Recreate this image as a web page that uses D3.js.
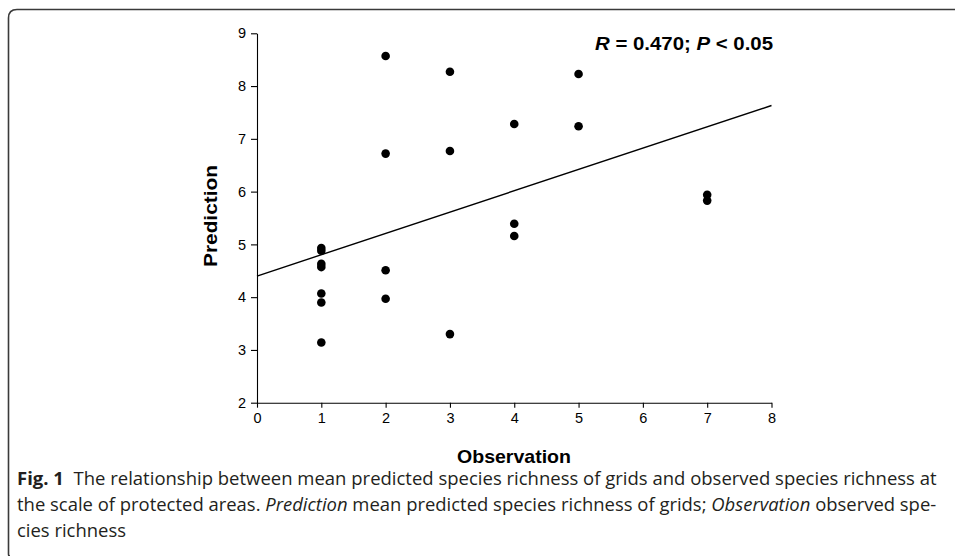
<!DOCTYPE html>
<html>
<head>
<meta charset="utf-8">
<script src="https://cdn.jsdelivr.net/npm/d3@7"></script>
<style>
  html, body { margin: 0; padding: 0; background: #fff; }
  svg { display: block; }
</style>
</head>
<body>
<svg id="chart" width="955" height="556"></svg>
<script>
// ---- data ----
const observation = [1, 1, 1, 1, 1, 1, 1, 2, 2, 2, 2, 3, 3, 3, 4, 4, 4, 5, 5, 7, 7];
const prediction  = [4.93, 4.88, 4.63, 4.57, 4.07, 3.90, 3.14,
                     8.57, 6.72, 4.51, 3.97,
                     8.27, 6.77, 3.30,
                     7.28, 5.39, 5.16,
                     8.23, 7.24,
                     5.94, 5.83];
const xTicks = [0, 1, 2, 3, 4, 5, 6, 7, 8];
const yTicks = [2, 3, 4, 5, 6, 7, 8, 9];
const fitIntercept = 4.40;
const fitSlope = 0.404;
const statText = ["R", " = 0.470; ", "P", " < 0.05"];
const xTitle = "Observation";
const yTitle = "Prediction";

const svg = d3.select("#chart");
const W = 955, H = 556;

// frame
svg.append("path")
  .attr("d", `M ${W} 9.5 H 17 Q 8.5 9.5 8.5 18 V ${H - 2} Q 8.5 ${H} 10 ${H}`)
  .attr("fill", "none").attr("stroke", "#3a3a3a").attr("stroke-width", 1.6);

const x = d3.scaleLinear().domain([0, 8]).range([257, 771.5]);
const y = d3.scaleLinear().domain([2, 9]).range([402.7, 33.3]);

const axisFont = "'Liberation Sans', Arial, sans-serif";

const gx = svg.append("g").attr("transform", `translate(0,${y(2)})`)
  .call(d3.axisBottom(x).tickValues(xTicks).tickFormat(d3.format("d")).tickSize(5).tickSizeOuter(0).tickPadding(5));
const gy = svg.append("g").attr("transform", `translate(${x(0)},0)`)
  .call(d3.axisLeft(y).tickValues(yTicks).tickFormat(d3.format("d")).tickSize(6).tickSizeOuter(0).tickPadding(5));
[gx, gy].forEach(g => {
  g.attr("font-family", axisFont).attr("font-size", 14.5);
  g.selectAll("path.domain").attr("stroke", "#000").attr("stroke-width", 1.1);
  g.selectAll(".tick line").attr("stroke", "#000").attr("stroke-width", 1.1);
  g.selectAll(".tick text").style("font-size", "14.5px").style("font-family", axisFont).attr("fill", "#000");
});

// regression line
svg.append("line")
  .attr("x1", x(0)).attr("y1", y(fitIntercept))
  .attr("x2", x(8)).attr("y2", y(fitIntercept + fitSlope * 8))
  .attr("stroke", "#000").attr("stroke-width", 1.4);

// points
svg.append("g").selectAll("circle")
  .data(observation.map((o, i) => ({o, p: prediction[i]})))
  .join("circle")
  .attr("cx", d => x(d.o)).attr("cy", d => y(d.p)).attr("r", 4.3)
  .attr("fill", "#000");

// stat annotation
const st = svg.append("text")
  .attr("x", 595).attr("y", 50)
  .attr("font-family", axisFont).attr("font-size", 18).attr("font-weight", "bold")
  .attr("fill", "#000")
  .attr("textLength", 178).attr("lengthAdjust", "spacingAndGlyphs");
statText.forEach((t, i) => {
  st.append("tspan").attr("font-style", (i % 2 === 0) ? "italic" : "normal")
    .attr("xml:space", "preserve").style("white-space", "pre").text(t);
});

// axis titles
svg.append("text")
  .attr("x", 514).attr("y", 463).attr("text-anchor", "middle")
  .attr("font-family", axisFont).attr("font-size", 19).attr("font-weight", "bold")
  .attr("textLength", 114).attr("lengthAdjust", "spacingAndGlyphs")
  .text(xTitle);
svg.append("text")
  .attr("transform", "translate(217,216) rotate(-90)")
  .attr("text-anchor", "middle")
  .attr("font-family", axisFont).attr("font-size", 19).attr("font-weight", "bold")
  .attr("textLength", 102).attr("lengthAdjust", "spacingAndGlyphs")
  .text(yTitle);

// caption
const capFont = "'Open Sans', 'Noto Sans', sans-serif";
const capLines = [
  [["Fig. 1", "bold"], ["  The relationship between mean predicted species richness of grids and observed species richness at", "normal"]],
  [["the scale of protected areas. ", "normal"], ["Prediction", "italic"], [" mean predicted species richness of grids; ", "normal"], ["Observation", "italic"], [" observed spe-", "normal"]],
  [["cies richness", "normal"]]
];
const capBase = [485, 511, 537];
const capTarget = [920, 920, null];
let lastScale = 1;
capLines.forEach((line, li) => {
  const g = svg.append("g");
  const t = g.append("text").attr("x", 0).attr("y", 0)
    .attr("font-family", capFont).attr("font-size", 17.5).attr("fill", "#231f20");
  line.forEach(([s, st2]) => {
    const ts = t.append("tspan").attr("xml:space", "preserve").style("white-space", "pre").text(s);
    if (st2 === "bold") ts.attr("font-weight", "bold");
    if (st2 === "italic") ts.attr("font-style", "italic");
  });
  const w = t.node().getComputedTextLength();
  const sc = capTarget[li] ? capTarget[li] / w : lastScale;
  lastScale = sc;
  g.attr("transform", `translate(17,${capBase[li]}) scale(${sc},1)`);
});
</script>
</body>
</html>
